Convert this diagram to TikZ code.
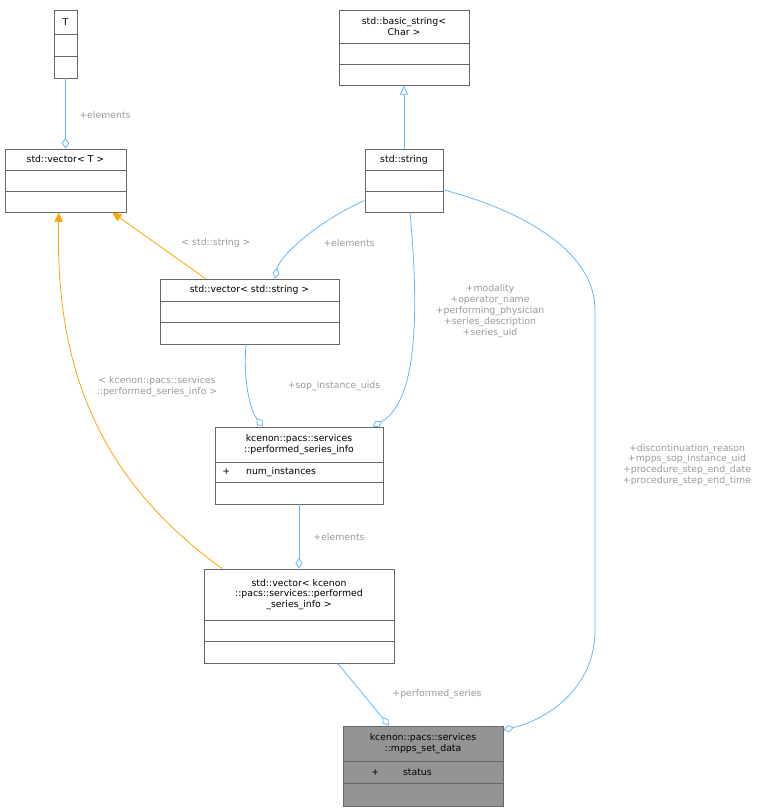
\documentclass[tikz,border=0pt]{standalone}
\usepackage{fontspec}
\setmainfont{DejaVu Sans}
\usetikzlibrary{arrows.meta,fit}

\definecolor{edgeblue}{HTML}{63B8FF}
\definecolor{edgeorange}{HTML}{FFA500}
\definecolor{labelgray}{HTML}{9A9A9A}
\definecolor{boxline}{HTML}{666666}

\tikzset{
  cls/.style={draw=boxline, inner sep=0pt, line width=0.6pt},
  txt/.style={font=\fontsize{7}{8.2}\selectfont, align=center, inner sep=0pt},
  lbl/.style={font=\fontsize{7}{8.2}\selectfont, text=labelgray, align=center, inner sep=0pt},
  member/.style={draw=edgeblue, line width=0.6pt, -{Diamond[open, length=8pt, width=5.5pt]}},
  templ/.style={draw=edgeorange, line width=0.6pt, -{Triangle[length=7pt, width=6pt]}},
  inherit/.style={draw=edgeblue, line width=0.6pt, -{Triangle[open, length=7pt, width=6pt]}}
}

\begin{document}
\begin{tikzpicture}[x=0.75pt, y=-0.75pt]
  \useasboundingbox (0,0) rectangle (781,812);

  % classes
  \node[cls, fit={(54,10)(77,78)}] (T) {};
  \draw[boxline] (54,34) -- (77,34) (54,56) -- (77,56);
  \node[txt] at (65.5,22) {T};

  \node[cls, fit={(339,10)(469,85)}] (bstr) {};
  \draw[boxline] (339,43) -- (469,43) (339,64) -- (469,64);
  \node[txt] at (404,26.5) {std::basic\_string\textless\\Char \textgreater};

  \node[cls, fit={(5,149)(126,212)}] (vecT) {};
  \draw[boxline] (5,170) -- (126,170) (5,191) -- (126,191);
  \node[txt] at (65.5,159.5) {std::vector\textless{} T \textgreater};

  \node[cls, fit={(365,149)(443,212)}] (string) {};
  \draw[boxline] (365,170) -- (443,170) (365,191) -- (443,191);
  \node[txt] at (404,159.5) {std::string};

  \node[cls, fit={(160,279)(339,344)}] (vecS) {};
  \draw[boxline] (160,301) -- (339,301) (160,322) -- (339,322);
  \node[txt] at (249.5,290) {std::vector\textless{} std::string \textgreater};

  \node[cls, fit={(215,427)(383,504)}] (psi) {};
  \draw[boxline] (215,462) -- (383,462) (215,482) -- (383,482);
  \node[txt] at (299,444.5) {kcenon::pacs::services\\::performed\_series\_info};
  \node[txt, anchor=west] at (222,472) {+\hspace{12pt}num\_instances};

  \node[cls, fit={(204,569)(394,663)}] (vecK) {};
  \draw[boxline] (204,620) -- (394,620) (204,641) -- (394,641);
  \node[txt] at (299,594.5) {std::vector\textless{} kcenon\\::pacs::services::performed\\\_series\_info \textgreater};

  \node[cls, fill=gray!80!black!50, fill=black!42, fit={(343,726)(503,806)}] (mpps) {};
  \draw[boxline] (343,761) -- (503,761) (343,783) -- (503,783);
  \node[txt] at (423,743.5) {kcenon::pacs::services\\::mpps\_set\_data};
  \node[txt, anchor=west] at (371,772) {+\hspace{18pt}status};

  % connectors
  \draw[inherit] (string.north) -- (bstr.south);
  \draw[member] (T.south) -- (vecT.north);
  \node[lbl] at (105,115) {+elements};

  \draw[member] ([yshift=-15pt]string.west) .. controls (320,220) and (280,255) .. ([xshift=19pt]vecS.north);
  \node[lbl] at (349,243) {+elements};

  \draw[member] ([xshift=4.5pt]string.south) .. controls (418,300) and (420,400) .. ([xshift=-8pt]psi.north east);
  \node[lbl] at (490,311) {+modality\\+operator\_name\\+performing\_physician\\+series\_description\\+series\_uid};

  \draw[member] ([yshift=-7pt]string.east) .. controls (520,210) and (595,250) .. (595,310)
    -- (595,630) .. controls (595,690) and (545,720) .. ([yshift=27pt]mpps.east);
  \node[lbl] at (687,465) {+discontinuation\_reason\\+mpps\_sop\_instance\_uid\\+procedure\_step\_end\_date\\+procedure\_step\_end\_time};

  \draw[member] ([xshift=-2.6pt]vecS.south) .. controls (243,380) and (250,410) .. ([xshift=-27pt]psi.north);
  \node[lbl] at (334,386) {+sop\_instance\_uids};

  \draw[templ] ([xshift=-33pt]vecS.north) -- ([xshift=35pt]vecT.south);
  \node[lbl] at (216,243) {\textless{} std::string \textgreater};

  \draw[templ] ([xshift=-57.75pt]vecK.north) .. controls (100,480) and (55,370) .. ([xshift=-5pt]vecT.south);
  \node[lbl] at (157,387) {\textless{} kcenon::pacs::services\\::performed\_series\_info \textgreater};

  \draw[member] (psi.south) -- (vecK.north);
  \node[lbl] at (339,537) {+elements};

  \draw[member] ([xshift=29pt]vecK.south) -- ([xshift=-25.5pt]mpps.north);
  \node[lbl] at (437,694) {+performed\_series};
\end{tikzpicture}
\end{document}
